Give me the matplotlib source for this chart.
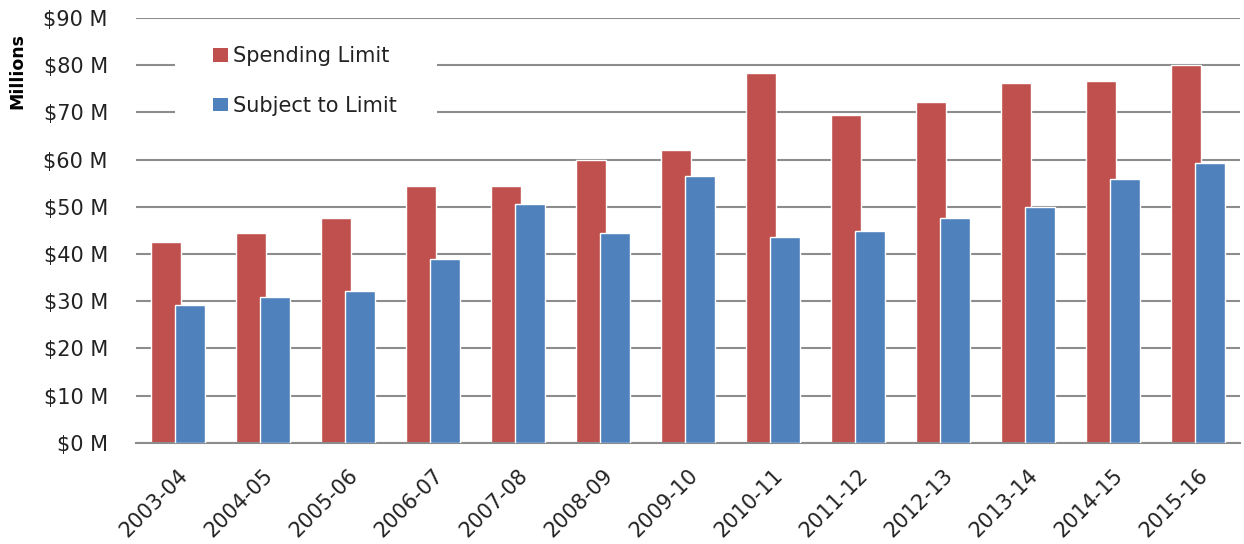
import matplotlib.pyplot as plt
import numpy as np
from matplotlib.patches import Patch, Rectangle
from matplotlib.ticker import FuncFormatter, MultipleLocator

plt.rcParams["font.family"] = ["DejaVu Sans"]

years = ["2003-04", "2004-05", "2005-06", "2006-07", "2007-08", "2008-09", "2009-10",
         "2010-11", "2011-12", "2012-13", "2013-14", "2014-15", "2015-16"]
spending_limit = [42.6, 44.4, 47.7, 54.5, 54.5, 60.0, 62.1, 78.3, 69.4, 72.3, 76.2, 76.6, 80.0]
subject_to_limit = [29.1, 30.8, 32.1, 38.9, 50.6, 44.4, 56.6, 43.5, 44.8, 47.7, 49.9, 55.8, 59.2]

RED = "#C0504D"
BLUE = "#4F81BD"
GRID = "#8c8c8c"
TEXT = "#222222"

fig = plt.figure(figsize=(12.44, 5.44), dpi=100)
ax = fig.add_axes([0.109, 0.186, 0.888, 0.781])

x = np.arange(len(years))
width = 0.355
offset = 0.14
ax.bar(x - offset, spending_limit, width, color=RED, edgecolor="white", linewidth=1, zorder=2)
ax.bar(x + offset, subject_to_limit, width, color=BLUE, edgecolor="white", linewidth=1, zorder=3)

ax.set_xlim(-0.5, len(years) - 0.5)
ax.set_ylim(0, 90)
ax.yaxis.set_major_locator(MultipleLocator(10))
ax.yaxis.set_major_formatter(FuncFormatter(lambda v, _: f"${v:.0f} M"))
ax.grid(axis="y", color=GRID, linewidth=1.5, zorder=0)
ax.set_axisbelow(True)

for side in ["top", "right", "left"]:
    ax.spines[side].set_visible(False)
ax.spines["bottom"].set_color(GRID)
ax.spines["bottom"].set_linewidth(1.5)

ax.set_xticks(x)
ax.set_xticklabels(years, rotation=45, ha="right", rotation_mode="anchor")
ax.tick_params(axis="both", length=0, labelsize=15, colors=TEXT)
ax.tick_params(axis="x", pad=16)
ax.tick_params(axis="y", pad=20)

fig.text(0.014, 0.869, "Millions", rotation=90, ha="center", va="center",
         fontsize=12.5, fontweight="bold", color="black")

# white panel behind the legend hides the gridlines there
ax.add_patch(Rectangle((0.036, 0.736), 0.237, 0.235, transform=ax.transAxes,
                       facecolor="white", edgecolor="none", zorder=1))

handles = [Patch(facecolor=RED, edgecolor="none"), Patch(facecolor=BLUE, edgecolor="none")]
leg = ax.legend(handles, ["Spending Limit", "Subject to Limit"], loc="upper left",
                bbox_to_anchor=(0.0697, 0.933), frameon=False, fontsize=15,
                handlelength=0.72, handleheight=0.62, handletextpad=0.25,
                labelspacing=1.4, borderpad=0, borderaxespad=0, labelcolor=TEXT)
leg.set_zorder(5)

fig.savefig("out.png", dpi=100, facecolor="white")
